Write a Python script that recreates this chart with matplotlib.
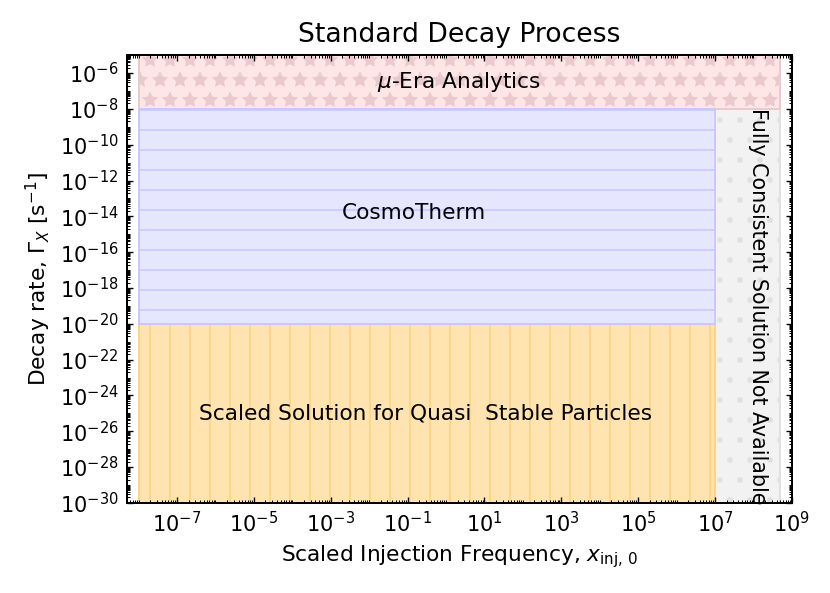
import numpy as np
import matplotlib
matplotlib.use("Agg")
import matplotlib.pyplot as plt
from matplotlib.patches import Rectangle
from matplotlib.ticker import FixedLocator, LogFormatterMathtext, NullFormatter

# regions of the (x_inj,0 , Gamma_X) plane
region_names = ["$\\mu$-Era Analytics", "CosmoTherm",
                "Scaled Solution for Quasi  Stable Particles",
                "Fully Consistent Solution Not Available"]
x_lo = [1e-8, 1e-8, 1e-8, 1e7]
x_hi = [5e8, 1e7, 1e7, 5e8]
y_lo = [1e-8, 1e-20, 1e-30, 1e-30]
y_hi = [1e-5, 1e-8, 1e-20, 1e-8]
# where each label sits
label_x = [2.2, 0.15, 3e-1, 1.35e8]
label_y = [3e-7, 1.5e-14, 1e-25, 1e-19]

xlim = (5e-9, 1e9)
ylim = (1e-30, 1e-5)

face = ["#FFE6E6", "#E6E6FF", "#FFE4B2", "#F2F2F2"]
edge = ["#EACACC", "#C8C8FF", "#FFD37F", "#E0E0E0"]
hatch = ["*", "-", "|", "."]
rot = [0, 0, 0, -90]
fsize = [13, 13, 13, 12.4]

fig = plt.figure(figsize=(830 / 120, 593 / 120), dpi=120)
ax = fig.add_axes([0.153, 0.152, 0.801, 0.755])
ax.set_xscale("log")
ax.set_yscale("log")

# grey first so the others sit on top of its border
for i in [3, 0, 2, 1]:
    r = Rectangle((x_lo[i], y_lo[i]), x_hi[i] - x_lo[i], y_hi[i] - y_lo[i],
                  facecolor=face[i], edgecolor=edge[i], hatch=hatch[i], lw=1.2)
    ax.add_patch(r)

for i in range(4):
    ax.text(label_x[i], label_y[i], region_names[i], rotation=rot[i],
            ha="center", va="center", fontsize=fsize[i])

ax.set_xlim(*xlim)
ax.set_ylim(*ylim)

xmaj = [10.0 ** k for k in range(-7, 10, 2)]
ymaj = [10.0 ** k for k in range(-30, -4, 2)]
xmin = [m * 10.0 ** k for k in range(-9, 10) for m in range(1, 10)
        if not (m == 1 and 10.0 ** k in xmaj)]
ymin = [m * 10.0 ** k for k in range(-31, -4) for m in range(1, 10)
        if not (m == 1 and 10.0 ** k in ymaj)]
ax.xaxis.set_major_locator(FixedLocator(xmaj))
ax.yaxis.set_major_locator(FixedLocator(ymaj))
ax.xaxis.set_minor_locator(FixedLocator(xmin))
ax.yaxis.set_minor_locator(FixedLocator(ymin))
ax.xaxis.set_major_formatter(LogFormatterMathtext())
ax.yaxis.set_major_formatter(LogFormatterMathtext())
ax.xaxis.set_minor_formatter(NullFormatter())
ax.yaxis.set_minor_formatter(NullFormatter())

ax.tick_params(which="both", direction="in", top=True, right=True, labelsize=12.5)
ax.tick_params(which="major", length=3.5, width=0.8, pad=5)
ax.tick_params(which="minor", length=2, width=0.6)
for s in ax.spines.values():
    s.set_linewidth(1.2)

ax.set_xlabel("Scaled Injection Frequency, $x_{\\rm inj,\\,0}$", fontsize=13)
ax.set_ylabel("Decay rate, $\\Gamma_X$ [s$^{-1}$]", fontsize=13)
ax.set_title("Standard Decay Process", fontsize=16, pad=8)

fig.savefig("out.png", dpi=120)
